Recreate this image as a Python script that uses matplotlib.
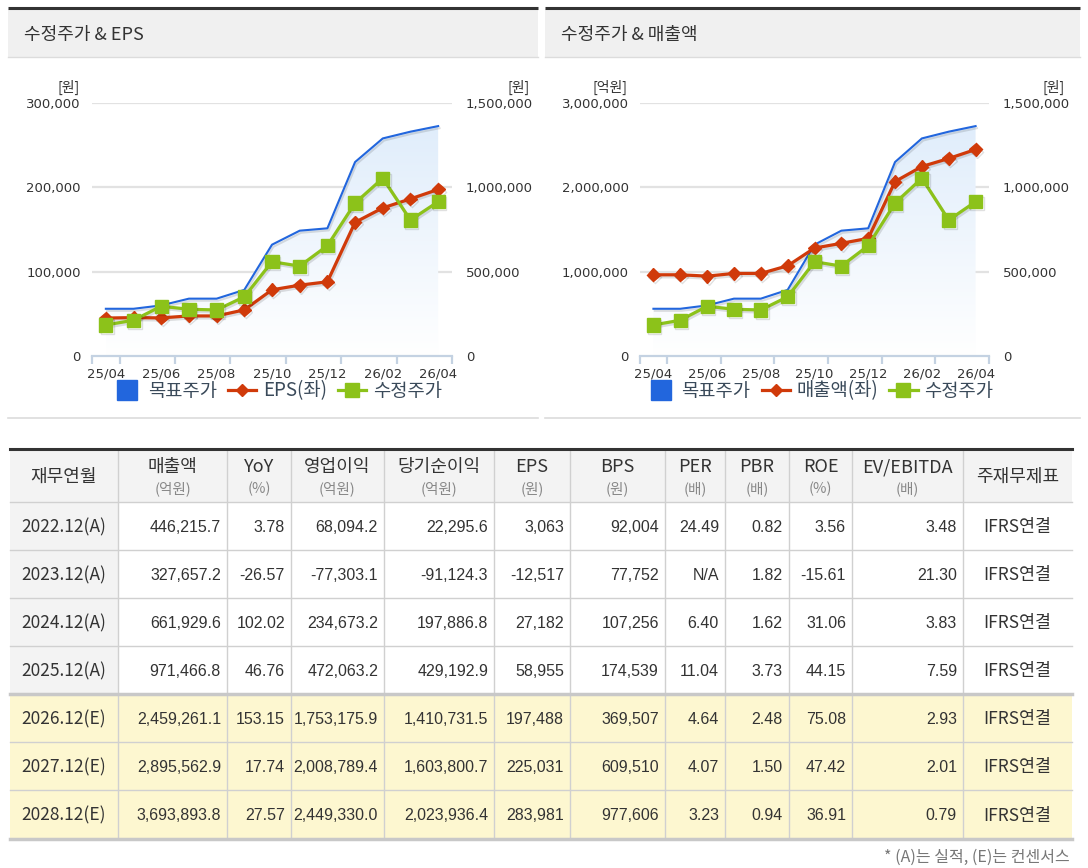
import numpy as np
import matplotlib
matplotlib.use('Agg')
import matplotlib.pyplot as plt
import matplotlib.patheffects as pe
from matplotlib.lines import Line2D
from matplotlib.patches import Rectangle
from matplotlib.ticker import FuncFormatter

plt.rcParams['font.family'] = ['Noto Sans CJK KR', 'DejaVu Sans']

# chart data (monthly)
months = ['25/04', '25/05', '25/06', '25/07', '25/08', '25/09', '25/10',
          '25/11', '25/12', '26/01', '26/02', '26/03', '26/04']
target_price = [280000, 280000, 300000, 340000, 340000, 392000, 660000,
                743000, 757000, 1150000, 1290000, 1330000, 1363000]
adj_price = [184000, 212000, 295000, 277000, 273000, 351000, 559000,
             533000, 654000, 907000, 1054000, 806000, 915000]
eps_line = [45000, 45500, 45200, 47500, 47500, 54700, 78500,
            84000, 88000, 158500, 175600, 186300, 197488]
sales_line = [963000, 963000, 947000, 979000, 979000, 1070000, 1280000,
              1336000, 1395000, 2069000, 2247000, 2342000, 2449000]

# table data
periods = ['2022.12(A)', '2023.12(A)', '2024.12(A)', '2025.12(A)',
           '2026.12(E)', '2027.12(E)', '2028.12(E)']
sales = ['446,215.7', '327,657.2', '661,929.6', '971,466.8', '2,459,261.1', '2,895,562.9', '3,693,893.8']
yoy = ['3.78', '-26.57', '102.02', '46.76', '153.15', '17.74', '27.57']
op_income = ['68,094.2', '-77,303.1', '234,673.2', '472,063.2', '1,753,175.9', '2,008,789.4', '2,449,330.0']
net_income = ['22,295.6', '-91,124.3', '197,886.8', '429,192.9', '1,410,731.5', '1,603,800.7', '2,023,936.4']
eps = ['3,063', '-12,517', '27,182', '58,955', '197,488', '225,031', '283,981']
bps = ['92,004', '77,752', '107,256', '174,539', '369,507', '609,510', '977,606']
per = ['24.49', 'N/A', '6.40', '11.04', '4.64', '4.07', '3.23']
pbr = ['0.82', '1.82', '1.62', '3.73', '2.48', '1.50', '0.94']
roe = ['3.56', '-15.61', '31.06', '44.15', '75.08', '47.42', '36.91']
ev_ebitda = ['3.48', '21.30', '3.83', '7.59', '2.93', '2.01', '0.79']
basis = ['IFRS연결'] * 7
col_names = ['재무연월', '매출액', 'YoY', '영업이익', '당기순이익', 'EPS', 'BPS',
             'PER', 'PBR', 'ROE', 'EV/EBITDA', '주재무제표']
col_units = ['', '(억원)', '(%)', '(억원)', '(억원)', '(원)', '(원)', '(배)', '(배)', '(%)', '(배)', '']

W, H = 1088, 868
BLUE = '#2266dd'
RED = '#d03a0a'
GREEN = '#8cc21a'
TXT = '#333333'
NUMFONT = ['DejaVu Sans']


def rect(x0, y0, x1, y1):
    return [x0 / W, 1 - y1 / H, (x1 - x0) / W, (y1 - y0) / H]


fig = plt.figure(figsize=(W / 100, H / 100), dpi=100)
bg = fig.add_axes([0, 0, 1, 1])
bg.set_xlim(0, W)
bg.set_ylim(H, 0)
bg.axis('off')

# panel headers
for x0, x1, title in [(8, 538, '수정주가 & EPS'), (545, 1080, '수정주가 & 매출액')]:
    bg.add_patch(Rectangle((x0, 9), x1 - x0, 48, facecolor='#f0f0f0', edgecolor='none'))
    bg.plot([x0, x1], [8, 8], color='#333333', lw=2.2, solid_capstyle='butt')
    bg.plot([x0, x1], [57, 57], color='#dcdcdc', lw=1)
    bg.plot([x0, x1], [418, 418], color='#dcdcdc', lw=1.2)
    bg.text(x0 + 16, 35, title, fontsize=13, color=TXT, va='center', ha='left')

shadow = [pe.SimpleLineShadow(offset=(1, -1.5), shadow_color='k', alpha=0.12), pe.Normal()]


def chart(x0, x1, left_vals, left_max, left_unit, left_label):
    xs = np.arange(len(months))
    r = rect(x0, 103, x1, 356)
    ax_r = fig.add_axes(r)
    ax_l = fig.add_axes(r)
    ax_g = fig.add_axes(r)
    for a in (ax_l, ax_g):
        a.patch.set_visible(False)
    for a in (ax_r, ax_l, ax_g):
        a.set_xlim(-0.5, len(months) - 0.5)
        for s in ('top', 'left', 'right', 'bottom'):
            a.spines[s].set_visible(False)
    ax_r.set_ylim(0, 1500000)
    ax_g.set_ylim(0, 1500000)
    ax_l.set_ylim(0, left_max)

    # gridlines + baseline on the back axes
    for v in np.linspace(0, 1500000, 4)[1:]:
        ax_r.axhline(v, color='#e2e2e2', lw=1.6, zorder=0)
    ax_r.spines['bottom'].set_visible(True)
    ax_r.spines['bottom'].set_color('#c4d2e2')
    ax_r.spines['bottom'].set_linewidth(1.6)

    # gradient area under target price
    poly = ax_r.fill_between(xs, target_price, 0, color='none', lw=0)
    grad = np.linspace(1, 0, 256).reshape(-1, 1)
    img = ax_r.imshow(grad, cmap=matplotlib.colors.LinearSegmentedColormap.from_list(
        'g', ['#ffffff', '#e0edfb']), aspect='auto',
        extent=[xs[0], xs[-1], 0, max(target_price)], origin='upper', zorder=1)
    ax_r.set_xlim(-0.5, len(months) - 0.5)
    ax_r.set_ylim(0, 1500000)
    img.set_clip_path(poly.get_paths()[0], transform=ax_r.transData)
    ax_r.plot(xs, target_price, color=BLUE, lw=1.5, zorder=3, path_effects=shadow)

    ax_l.plot(xs, left_vals, color=RED, lw=2.3, marker='D', ms=6.5,
              mec=RED, zorder=3, path_effects=shadow)
    ax_g.plot(xs, adj_price, color=GREEN, lw=2.3, marker='s', ms=9.5,
              mec=GREEN, zorder=3, path_effects=shadow)

    # x ticks
    ax_r.set_xticks(xs[::2])
    ax_r.set_xticklabels(months[::2])
    ax_r.set_xticks([-0.5, 0.5, 2.5, 4.5, 6.5, 8.5, 10.5, 12.5], minor=True)
    ax_r.tick_params(axis='x', which='major', length=0, pad=8, labelsize=9.5, labelcolor=TXT)
    ax_r.tick_params(axis='x', which='minor', length=6, width=1.6, color='#c4d2e2')
    for t in ax_r.get_xticklabels():
        t.set_fontfamily(NUMFONT)

    # right axis
    ax_r.yaxis.tick_right()
    ax_r.set_yticks(np.linspace(0, 1500000, 4))
    ax_r.yaxis.set_major_formatter(FuncFormatter(lambda v, p: f'{v:,.0f}'))
    ax_r.tick_params(axis='y', length=0, pad=10, labelsize=9.5, labelcolor=TXT)
    # left axis
    ax_l.set_yticks(np.linspace(0, left_max, 4))
    ax_l.yaxis.set_major_formatter(FuncFormatter(lambda v, p: f'{v:,.0f}'))
    ax_l.tick_params(axis='y', length=0, pad=8, labelsize=9.5, labelcolor=TXT)
    ax_l.set_xticks([])
    ax_g.set_xticks([])
    ax_g.set_yticks([])
    for t in ax_r.get_yticklabels() + ax_l.get_yticklabels():
        t.set_fontfamily(NUMFONT)

    # units
    bg.text(x0 - 12, 87, left_unit, fontsize=10, color=TXT, ha='right', va='center')
    bg.text(x1 + 78 if x1 < 500 else x1 + 76, 87, '[원]', fontsize=10, color=TXT, ha='right', va='center')

    handles = [Line2D([], [], color=BLUE, marker='s', ms=14, ls='none'),
               Line2D([], [], color=RED, marker='D', ms=6.5, lw=2.3),
               Line2D([], [], color=GREEN, marker='s', ms=9.5, lw=2.3)]
    leg = fig.legend(handles, ['목표주가', left_label, '수정주가'], loc='center',
                     ncol=3, frameon=False, fontsize=13.5, handlelength=1.5,
                     handletextpad=0.35, columnspacing=0.6, labelcolor='#3a4a5a')
    leg.set_bbox_to_anchor(((x0 + x1) / 2 / W + 0.005, 1 - 391 / H), transform=fig.transFigure)


chart(92, 452, eps_line, 300000, '[원]', 'EPS(좌)')
chart(640, 989, sales_line, 3000000, '[억원]', '매출액(좌)')

# table
xb = [10, 118, 227, 291, 384, 494, 570, 665, 725, 789, 852, 963, 1072]
yb = [502, 550, 598, 646, 694, 742, 790, 839]
bg.add_patch(Rectangle((xb[0], 450), xb[-1] - xb[0], 52, facecolor='#f3f3f3', edgecolor='none'))
for i, p in enumerate(periods):
    y0, y1 = yb[i], yb[i + 1]
    if '(E)' in p:
        bg.add_patch(Rectangle((xb[0], y0), xb[-1] - xb[0], y1 - y0, facecolor='#fdf7d0', edgecolor='none'))
    else:
        bg.add_patch(Rectangle((xb[0], y0), xb[1] - xb[0], y1 - y0, facecolor='#f3f3f3', edgecolor='none'))

for x in xb[1:-1]:
    bg.plot([x, x], [450, yb[-1]], color='#d0d0d0', lw=1)
for y in yb[:-1]:
    bg.plot([xb[0], xb[-1]], [y, y], color='#d0d0d0', lw=1)
bg.plot([xb[0], xb[-1]], [449, 449], color='#333333', lw=2.2)
bg.plot([xb[0], xb[-1]], [694, 694], color='#c8c8c8', lw=2.5)
bg.plot([xb[0], xb[-1]], [yb[-1], yb[-1]], color='#c8c8c8', lw=2.5)

for j, (name, unit) in enumerate(zip(col_names, col_units)):
    cx = (xb[j] + xb[j + 1]) / 2
    if unit:
        bg.text(cx, 467, name, fontsize=13, color=TXT, ha='center', va='center')
        bg.text(cx, 489, unit, fontsize=10.5, color='#888888', ha='center', va='center')
    else:
        bg.text(cx, 477, name, fontsize=13, color=TXT, ha='center', va='center')

columns = [sales, yoy, op_income, net_income, eps, bps, per, pbr, roe, ev_ebitda]
for i, p in enumerate(periods):
    cy = (yb[i] + yb[i + 1]) / 2 + 1
    bg.text((xb[0] + xb[1]) / 2, cy, p, fontsize=12.5, color=TXT, ha='center', va='center')
    for j, col in enumerate(columns):
        bg.text(xb[j + 2] - 6, cy, col[i], fontsize=11.5, color=TXT, ha='right', va='center',
                family=['Liberation Sans'])
    bg.text((xb[-2] + xb[-1]) / 2, cy, basis[i], fontsize=12.5, color=TXT, ha='center', va='center')

bg.text(1070, 857, '* (A)는 실적, (E)는 컨센서스', fontsize=11.5, color='#777777', ha='right', va='center')

fig.savefig('out.png', dpi=100)
